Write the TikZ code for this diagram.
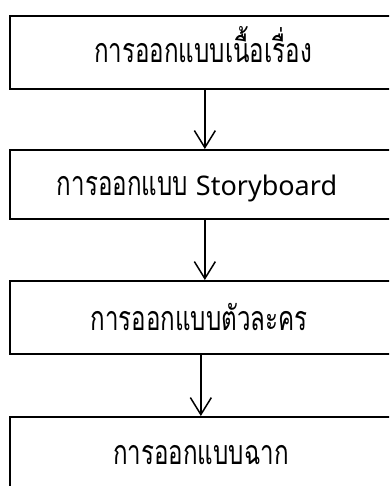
\documentclass[tikz,border=0pt]{standalone}
\usepackage{fontspec}
\newfontfamily\thaifont[Script=Thai,FakeStretch=0.71]{Loma}
\newfontfamily\latinfont{Noto Sans}
\usetikzlibrary{arrows.meta}
\tikzset{
  box/.style={draw, line width=1.7pt, rectangle, inner sep=0pt, anchor=north west},
  lbl/.style={anchor=base, inner sep=0pt, font=\thaifont\fontsize{34}{40}\selectfont},
  arr/.style={line width=1.5pt, -{Straight Barb[length=17pt,width=21pt,line width=1.5pt]}}
}
\begin{document}
\begin{tikzpicture}[x=1pt,y=-1pt]
\useasboundingbox (0,0) rectangle (389,486);
\clip (0,0) rectangle (389,486);
\node[box, minimum width=390pt, minimum height=73pt] (b1) at (9,15) {};
\node[box, minimum width=390pt, minimum height=69pt] (b2) at (9,149) {};
\node[box, minimum width=390pt, minimum height=73pt] (b3) at (9,280) {};
\node[box, minimum width=390pt, minimum height=80pt] (b4) at (9,416) {};
\node[lbl] (t1) at (203,63) {การออกแบบเนื้อเรื่อง};
\node[lbl] (t2) at (197,196) {การออกแบบ {\latinfont\fontsize{27}{32}\selectfont Storyboard}};
\node[lbl] (t3) at (199,330) {การออกแบบตัวละคร};
\node[lbl] (t4) at (201,464) {การออกแบบฉาก};
\draw[arr] (b1.south) -- (b2.north);
\draw[arr] (b2.south) -- (b3.north);
\draw[arr] ([xshift=-4pt]b3.south) -- ([xshift=-4pt]b4.north);
\end{tikzpicture}
\end{document}
